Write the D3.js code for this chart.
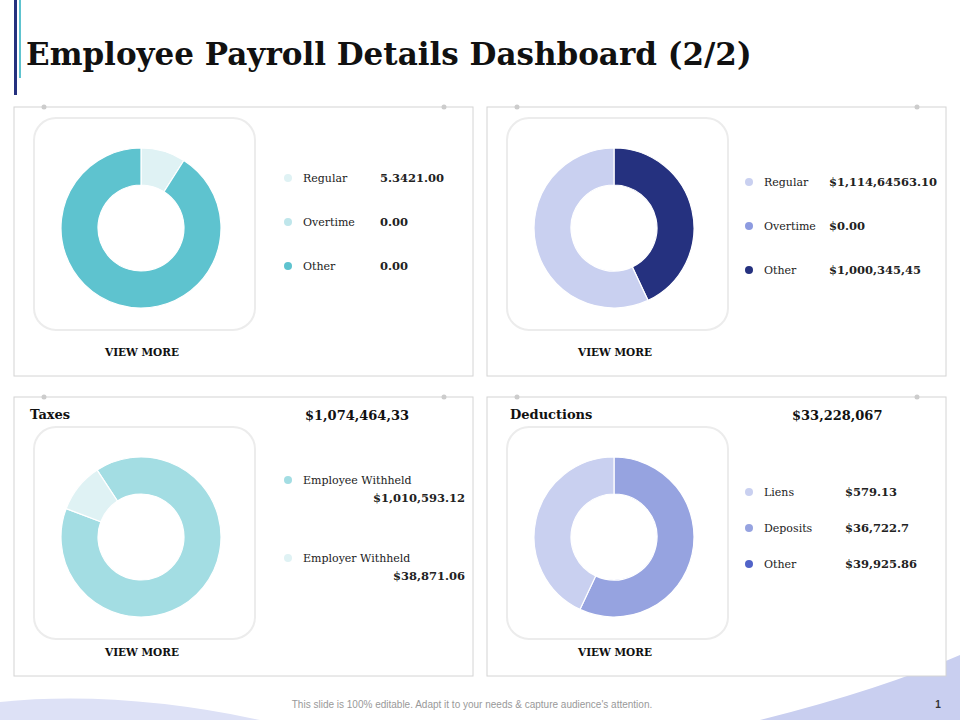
<!DOCTYPE html>
<html><head><meta charset="utf-8">
<script src="https://cdn.jsdelivr.net/npm/d3@7"></script>
<style>body{margin:0;background:#fff}svg{display:block}</style>
</head><body>
<svg id="chart" width="960" height="720"></svg>
<script>
// panel data (slice shares)
var panelTitles = ['', '', 'Taxes', 'Deductions']
var panelTotals = ['', '', '$1,074,464,33', '$33,228,067']
var legendLabels = [
  ['Regular', 'Overtime', 'Other'],
  ['Regular', 'Overtime', 'Other'],
  ['Employee Withheld', 'Employer Withheld'],
  ['Liens', 'Deposits', 'Other']
]
var legendValues = [
  ['5.3421.00', '0.00', '0.00'],
  ['$1,114,64563.10', '$0.00', '$1,000,345,45'],
  ['$1,010,593.12', '$38,871.06'],
  ['$579.13', '$36,722.7', '$39,925.86']
]
var legendColors = [
  ['#dff2f4', '#bfe6eb', '#5ec3cf'],
  ['#c9d0f0', '#8d9be0', '#25317f'],
  ['#a3dde3', '#dff2f4'],
  ['#c9d0f0', '#96a3e0', '#5163c8']
]
// donut slices: shares and colors, clockwise from start angle
var sliceShares = [[9, 91], [43, 57], [90, 10], [57, 43]]
var sliceColors = [['#dff2f4', '#5ec3cf'], ['#25317f', '#c9d0f0'], ['#a3dde3', '#dff2f4'], ['#96a3e0', '#c9d0f0']]
var sliceStart = [0, 0, 0.58, 0]

var svg = d3.select('#chart')
var serif = "'DejaVu Serif', serif"

// background decoration
svg.append('path').attr('d', 'M0,720 L0,702 Q120,690 260,720 Z').attr('fill', '#dde1f6')
svg.append('path').attr('d', 'M760,720 Q880,690 960,655 L960,720 Z').attr('fill', '#c9cff0')
svg.append('rect').attr('x', 14).attr('y', 0).attr('width', 3).attr('height', 95).attr('fill', '#25317f')
svg.append('rect').attr('x', 19).attr('y', 0).attr('width', 2).attr('height', 78).attr('fill', '#5ec3cf')
svg.append('text').attr('x', 26).attr('y', 65).attr('font-family', serif).attr('font-weight', 'bold')
  .attr('font-size', 31).attr('fill', '#111').text('Employee Payroll Details Dashboard (2/2)')
svg.append('text').attr('x', 472).attr('y', 708).attr('text-anchor', 'middle').attr('font-family', 'Liberation Sans, Arial')
  .attr('font-size', 10).attr('fill', '#999').text("This slide is 100% editable. Adapt it to your needs & capture audience's attention.")
svg.append('text').attr('x', 938).attr('y', 708).attr('text-anchor', 'middle').attr('font-family', 'Liberation Sans, Arial')
  .attr('font-size', 10).attr('font-weight', 'bold').attr('fill', '#333').text('1')

var panels = [[14, 107, 269], [487, 107, 269], [14, 397, 279], [487, 397, 279]]
var pie = d3.pie().sort(null).value(d => d)

panels.forEach(function (p, i) {
  var g = svg.append('g').attr('transform', 'translate(' + p[0] + ',' + p[1] + ')')
  g.append('rect').attr('width', 459).attr('height', p[2]).attr('fill', '#fff').attr('stroke', '#d4d4d4')
  g.append('circle').attr('cx', 30).attr('cy', 0).attr('r', 2.5).attr('fill', '#ccc')
  g.append('circle').attr('cx', 430).attr('cy', 0).attr('r', 2.5).attr('fill', '#ccc')

  var boxY = i < 2 ? 11 : 30
  g.append('rect').attr('x', 20).attr('y', boxY).attr('width', 221).attr('height', 212).attr('rx', 22)
    .attr('fill', '#fff').attr('stroke', '#ececec').attr('stroke-width', 2)
  var cx = 127, cy = boxY + 110
  var arc = d3.arc().innerRadius(43).outerRadius(80)
  var slices = pie.startAngle(-sliceStart[i]).endAngle(2 * Math.PI - sliceStart[i])(sliceShares[i])
  g.append('g').attr('transform', 'translate(' + cx + ',' + cy + ')')
    .selectAll('path').data(slices).enter().append('path')
    .attr('d', arc).attr('fill', (d, j) => sliceColors[i][j]).attr('stroke', '#fff').attr('stroke-width', 1.2)

  g.append('text').attr('x', 128).attr('y', p[2] - 20).attr('text-anchor', 'middle').attr('font-family', serif)
    .attr('font-size', 10.5).attr('font-weight', 'bold').attr('fill', '#111').text('VIEW MORE')

  if (panelTitles[i]) {
    g.append('text').attr('x', i == 2 ? 16 : 23).attr('y', 22).attr('font-family', serif).attr('font-weight', 'bold')
      .attr('font-size', 13).attr('fill', '#111').text(panelTitles[i])
    g.append('text').attr('x', i == 2 ? 291 : 305).attr('y', 23).attr('font-family', serif).attr('font-weight', 'bold')
      .attr('font-size', 13).attr('fill', '#111').text(panelTotals[i])
  }

  legendLabels[i].forEach(function (lab, j) {
    var lx, ly, vx, vy
    if (i == 0) { lx = 274; ly = 75 + j * 44; vx = 366; vy = ly }
    else if (i == 1) { lx = 262; ly = 79 + j * 44; vx = 342; vy = ly }
    else if (i == 2) { lx = 274; ly = 87 + j * 78; vx = 451; vy = ly + 18 }
    else { lx = 262; ly = 99 + j * 36; vx = 358; vy = ly }
    g.append('circle').attr('cx', lx).attr('cy', ly - 4).attr('r', 4).attr('fill', legendColors[i][j])
    g.append('text').attr('x', lx + 15).attr('y', ly).attr('font-family', serif).attr('font-size', 11)
      .attr('fill', '#222').text(lab)
    g.append('text').attr('x', vx).attr('y', vy).attr('text-anchor', i == 2 ? 'end' : 'start')
      .attr('font-family', serif).attr('font-size', 11.5).attr('font-weight', 'bold').attr('fill', '#222')
      .text(legendValues[i][j])
  })
})
</script>
</body></html>
